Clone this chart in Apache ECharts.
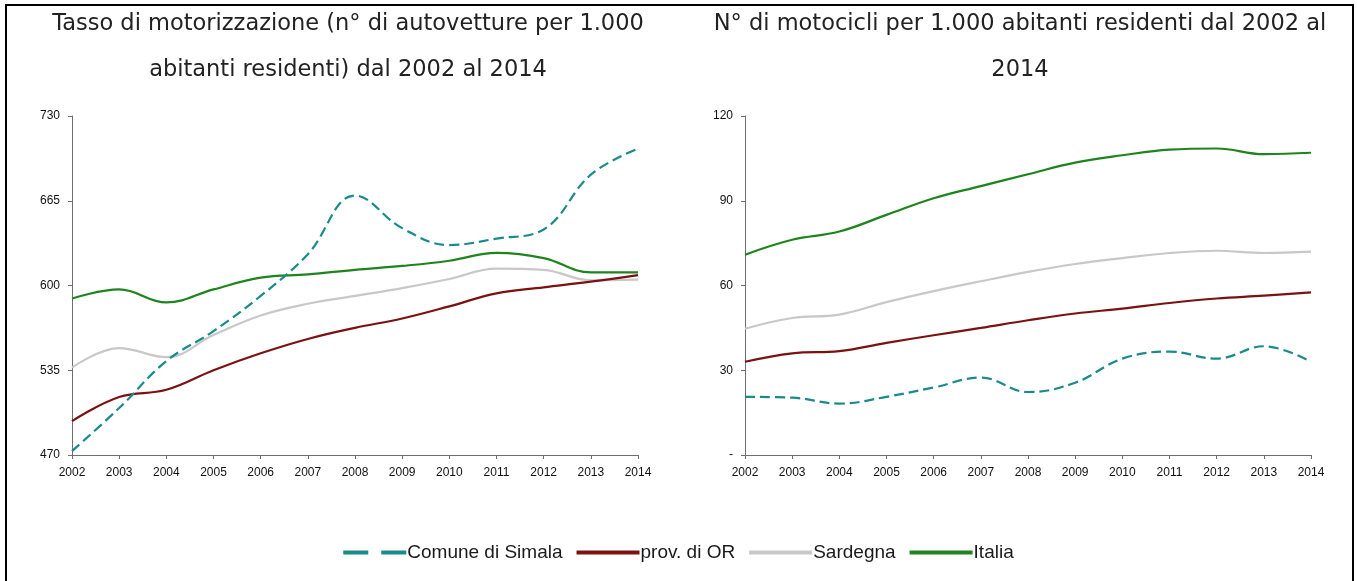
<!DOCTYPE html>
<html>
<head>
<meta charset="utf-8">
<script src="https://cdn.jsdelivr.net/npm/echarts@6/dist/echarts.min.js"></script>
<style>
html,body{margin:0;padding:0;background:#fff;}
#c{width:1357px;height:581px;}
</style>
</head>
<body>
<div id="c"></div>
<script>
var years = ['2002','2003','2004','2005','2006','2007','2008','2009','2010','2011','2012','2013','2014'];
var seriesNames = ['Comune di Simala','prov. di OR','Sardegna','Italia'];

// Left chart: cars per 1,000 residents
var autoSimala   = [473, 506, 542, 565, 592, 624, 669, 644, 631, 636, 643, 685, 705];
var autoOR       = [496, 514.5, 520, 535, 548, 559, 567.5, 574.7, 584, 594, 598.6, 603, 608];
var autoSardegna = [537, 552, 545, 562, 577, 586, 592, 598, 605, 613, 612, 604, 604.5];
var autoItalia   = [590, 597, 587, 597, 606, 608.5, 612, 615, 619, 625, 621, 610, 610];
var autoTicks    = [470, 535, 600, 665, 730];

// Right chart: motorcycles per 1,000 residents
var motoSimala   = [20.6, 20.3, 18.2, 20.6, 23.9, 27.4, 22.3, 25.6, 34.1, 36.6, 34.1, 38.5, 33];
var motoOR       = [33, 36, 36.8, 39.7, 42.4, 45, 47.7, 50.1, 51.8, 53.8, 55.4, 56.4, 57.6];
var motoSardegna = [44.7, 48.5, 49.7, 54.1, 58, 61.5, 64.8, 67.6, 69.7, 71.5, 72.3, 71.5, 72];
var motoItalia   = [70.9, 76.2, 79.1, 85, 90.9, 95.2, 99.4, 103.5, 106.1, 108.1, 108.5, 106.5, 107];
var motoTicks    = [0, 30, 60, 90, 120];

var titleLeft  = 'Tasso di motorizzazione (n° di autovetture per 1.000\nabitanti residenti) dal 2002 al 2014';
var titleRight = 'N° di motocicli per 1.000 abitanti residenti dal 2002 al\n2014';

var colors = ['#1A8A8A', '#7A1212', '#C8C8C8', '#1E841E'];
var dashChart = [10, 5];

var chart = echarts.init(document.getElementById('c'), null, {renderer: 'canvas'});

function xAxisCfg(gi) {
  return {
    type: 'category', gridIndex: gi, data: years, boundaryGap: false,
    axisLine: {lineStyle: {color: '#6e6e6e', width: 1}},
    axisTick: {show: true, inside: false, length: 4, lineStyle: {color: '#6e6e6e'}},
    axisLabel: {color: '#111', fontSize: 12, fontFamily: 'Liberation Sans', margin: 12},
    splitLine: {show: false}
  };
}
function yAxisCfg(gi, ticks, fmt) {
  return {
    type: 'value', gridIndex: gi, min: ticks[0], max: ticks[ticks.length - 1],
    interval: ticks[1] - ticks[0],
    axisLine: {show: true, lineStyle: {color: '#6e6e6e', width: 1}},
    axisTick: {show: true, inside: false, length: 4, lineStyle: {color: '#6e6e6e'}, customValues: ticks},
    axisLabel: {color: '#111', fontSize: 12, fontFamily: 'Liberation Sans', margin: 12, customValues: ticks, formatter: fmt},
    splitLine: {show: false}
  };
}
function mkSeries(name, data, idx, gi) {
  return {
    name: name, type: 'line', xAxisIndex: gi, yAxisIndex: gi, data: data,
    smooth: 0.4, symbol: 'none', showSymbol: false,
    lineStyle: {color: colors[idx], width: 2.2, type: idx === 0 ? dashChart : 'solid'},
    itemStyle: {color: colors[idx]},
    z: idx === 0 ? 5 : 4 - idx + 1
  };
}

var icons = [
  'path://M0,0h25v4h-25z M38,0h25v4h-25z',
  'path://M0,0h63v4h-63z',
  'path://M0,0h63v4h-63z',
  'path://M0,0h63v4h-63z'
];

var option = {
  animation: false,
  backgroundColor: '#fff',
  title: [
    {text: titleLeft, left: 343, top: -4, textAlign: 'center',
     textStyle: {fontFamily: 'DejaVu Sans', fontSize: 22.5, fontWeight: 'normal', color: '#222', lineHeight: 46}},
    {text: titleRight, left: 1015, top: -4, textAlign: 'center',
     textStyle: {fontFamily: 'DejaVu Sans', fontSize: 22.5, fontWeight: 'normal', color: '#222', lineHeight: 46}}
  ],
  grid: [
    {left: 72, width: 566, top: 116, height: 339, containLabel: false},
    {left: 745, width: 566, top: 116, height: 339, containLabel: false}
  ],
  xAxis: [xAxisCfg(0), xAxisCfg(1)],
  yAxis: [
    yAxisCfg(0, autoTicks, function (v) { return String(v); }),
    yAxisCfg(1, motoTicks, function (v) { return v === 0 ? '-' : String(v); })
  ],
  legend: {
    show: true, left: 'center', top: 538, itemGap: 14, itemWidth: 63, itemHeight: 4,
    textStyle: {fontFamily: 'Liberation Sans', fontSize: 19, color: '#1a1a1a', padding: [0, 0, 0, -4]},
    data: seriesNames.map(function (n, i) {
      return {name: n, icon: icons[i], itemStyle: {color: colors[i]}};
    })
  },
  graphic: [
    {type: 'rect', shape: {x: 6, y: 5, width: 1347, height: 600},
     style: {fill: 'none', stroke: '#000', lineWidth: 2}, silent: true, z: 100}
  ],
  series: [
    mkSeries(seriesNames[3], autoItalia, 3, 0),
    mkSeries(seriesNames[2], autoSardegna, 2, 0),
    mkSeries(seriesNames[1], autoOR, 1, 0),
    mkSeries(seriesNames[0], autoSimala, 0, 0),
    mkSeries(seriesNames[3], motoItalia, 3, 1),
    mkSeries(seriesNames[2], motoSardegna, 2, 1),
    mkSeries(seriesNames[1], motoOR, 1, 1),
    mkSeries(seriesNames[0], motoSimala, 0, 1)
  ]
};
chart.setOption(option);
</script>
</body>
</html>
